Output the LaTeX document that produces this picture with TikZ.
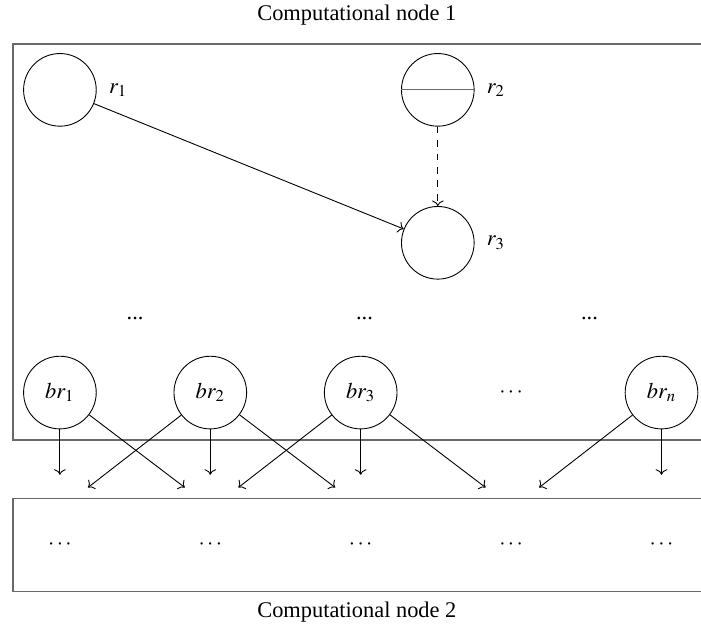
\documentclass[tikz,border=0pt]{standalone}
\usepackage{mathptmx}
\usepackage{fontspec}
\setmainfont{Liberation Serif}
\usetikzlibrary{arrows.meta,positioning,calc}
\definecolor{boxgray}{RGB}{105,105,105}

\begin{document}
\begin{tikzpicture}[
  res/.style={draw, circle, minimum size=1.14cm, inner sep=0pt},
  frame/.style={boxgray, line width=0.7pt},
  link/.style={->, thin}]
  \useasboundingbox (0,0) rectangle (11,-9.93);
  % computational node 1
  \node (cn1) at (5.6,-0.24) {Computational node 1};
  \draw[frame] (11,-0.69) -- (0.2,-0.69) -- (0.2,-6.9) -- (11,-6.9);
  \node[res, label={[label distance=2pt]right:$r_1$}] (r1) at (0.94,-1.41) {};
  \node[res, label={[label distance=2pt]right:$r_2$}] (r2) at (6.87,-1.41) {};
  \node[res, label={[label distance=2pt]right:$r_3$}] (r3) at (6.87,-3.81) {};
  \draw[boxgray] (r2.west) -- (r2.east);
  \draw[link] (r1) -- (r3);
  \draw[link, dashed] (r2) -- (r3);
  \node (d1) at (2.12,-4.99) {...};
  \node (d2) at (5.72,-4.99) {...};
  \node (d3) at (9.25,-4.99) {...};
  % boundary resources
  \node[res] (br1) at (0.94,-6.16) {$br_1$};
  \node[res] (br2) at (3.30,-6.16) {$br_2$};
  \node[res] (br3) at (5.66,-6.16) {$br_3$};
  \node (brdots) at (8.02,-6.16) {$\cdots$};
  \node[res] (brn) at (10.38,-6.16) {$br_n$};
  % computational node 2
  \draw[frame] (11,-7.82) -- (0.2,-7.82) -- (0.2,-9.28) -- (11,-9.28);
  \node (cn2) at (5.6,-9.6) {Computational node 2};
  \foreach \i/\x in {1/0.94,2/3.30,3/5.66,4/8.02,5/10.38}
    \node (g\i) at (\x,-8.54) {$\cdots$};
  % transfers
  \foreach \b in {br1,br2,br3,brn}{
    \coordinate (\b down) at ($(\b)+(0,-1.29)$);
    \draw[link] (\b) -- (\b down);
  }
  \foreach \b in {br1,br2,br3}{
    \coordinate (\b right) at ($(\b)+(1.96,-1.49)$);
    \draw[link] (\b) -- (\b right);
  }
  \foreach \b in {br2,br3,brn}{
    \coordinate (\b left) at ($(\b)+(-1.92,-1.49)$);
    \draw[link] (\b) -- (\b left);
  }
\end{tikzpicture}
\end{document}
